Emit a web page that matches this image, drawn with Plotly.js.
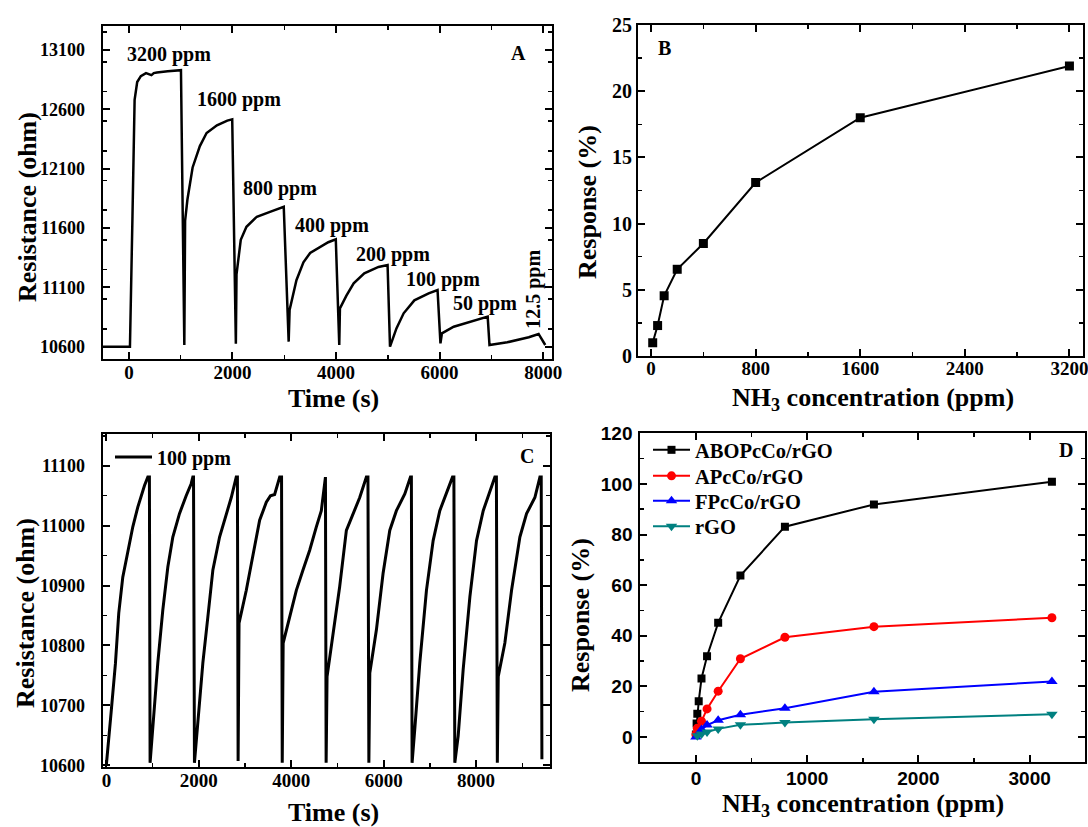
<!DOCTYPE html>
<html>
<head>
<meta charset="utf-8">
<script src="https://cdn.plot.ly/plotly-3.0.1.min.js"></script>
<style>html,body{margin:0;padding:0;background:#fff;}#chart{width:1088px;height:827px;}</style>
</head>
<body>
<div id="chart"></div>
<script>
// ---------- Panel A: resistance vs time, stepped NH3 concentrations ----------
const timeA = [-500, 20, 69, 110, 160, 230, 330, 400, 435, 480, 540, 750, 950, 1005,
  1070, 1085, 1130, 1230, 1370, 1500, 1700, 1900, 1995,
  2065, 2078, 2160, 2270, 2470, 2750, 2990,
  3085, 3103, 3235, 3370, 3500, 3700, 3850, 3995,
  4062, 4075, 4200, 4340, 4545, 4820, 4995,
  5042, 5166, 5305, 5512, 5788, 5960,
  6016, 6044, 6272, 6616, 6928,
  6963, 7307, 7722, 7860, 7911, 8040];
const resA = [10600, 10600, 11700, 12680, 12830, 12880, 12905, 12895, 12888, 12905, 12910, 12920, 12925, 12930,
  10614, 11660, 11840, 12110, 12290, 12400, 12465, 12505, 12515,
  10625, 11210, 11500, 11610, 11695, 11740, 11779,
  10642, 10909, 11160, 11310, 11390, 11440, 11480, 11505,
  10614, 10923, 11030, 11134, 11218, 11272, 11288,
  10600, 10754, 10881, 10990, 11049, 11077,
  10628, 10712, 10768, 10811, 10853,
  10614, 10637, 10679, 10698, 10707, 10614];
const labelsA = ["3200 ppm", "1600 ppm", "800 ppm", "400 ppm", "200 ppm", "100 ppm", "50 ppm", "12.5 ppm"];

// ---------- Panel B: response vs concentration ----------
const concB = [12.5, 50, 100, 200, 400, 800, 1600, 3200];
const respB = [1.0, 2.3, 4.55, 6.55, 8.5, 13.1, 18.0, 21.9];

// ---------- Panel C: repeated 100 ppm cycles ----------
const timeC = [0, 50, 100, 195, 267, 354, 462, 571, 679, 751, 824, 896, 930,
  945, 1003, 1112, 1220, 1329, 1437, 1581, 1726, 1834, 1870, 1885,
  1905, 1979, 2087, 2196, 2304, 2449, 2593, 2702, 2810, 2835,
  2850, 2870, 3027, 3172, 3316, 3460, 3550, 3640, 3750, 3790,
  3805, 3825, 3966, 4110, 4254, 4399, 4543, 4651, 4740,
  4755, 4775, 4904, 5048, 5193, 5337, 5482, 5626, 5660,
  5680, 5700, 5843, 5987, 6132, 6276, 6457, 6580, 6600,
  6615, 6673, 6782, 6926, 7071, 7215, 7360, 7490, 7520,
  7540, 7613, 7721, 7866, 8010, 8155, 8299, 8407, 8440,
  8460, 8480, 8623, 8768, 8948, 9093, 9273, 9382, 9410,
  9425];
const resC = [10602, 10640, 10687, 10770, 10854, 10914, 10959, 10998, 11031, 11050, 11067, 11081, 11081,
  10604, 10660, 10771, 10859, 10931, 10981, 11020, 11050, 11070, 11081, 11081,
  10604, 10671, 10771, 10848, 10926, 10981, 11020, 11047, 11081, 11081,
  10607, 10837, 10892, 10948, 11009, 11039, 11050, 11052, 11081, 11081,
  10604, 10804, 10848, 10892, 10926, 10959, 10998, 11025, 11081,
  10604, 10748, 10815, 10898, 10992, 11020, 11047, 11081, 11081,
  10604, 10754, 10826, 10920, 10992, 11025, 11053, 11081, 11081,
  10604, 10660, 10771, 10892, 10975, 11025, 11053, 11081, 11081,
  10604, 10649, 10760, 10881, 10975, 11025, 11056, 11081, 11081,
  10604, 10748, 10804, 10892, 10981, 11020, 11047, 11081, 11081,
  10610];

// ---------- Panel D: response of four sensing materials ----------
const namesD = ["ABOPcCo/rGO", "APcCo/rGO", "FPcCo/rGO", "rGO"];
const concD1 = [0, 6.25, 12.5, 25, 50, 100, 200, 400, 800, 1600, 3200];
const respD1 = [1, 5.3, 9.2, 14.1, 23.1, 31.9, 45.1, 63.8, 83.1, 91.9, 100.9];
const concD2 = [0, 12.5, 50, 100, 200, 400, 800, 1600, 3200];
const respD2 = [1, 3.5, 6.2, 11.1, 18.1, 30.9, 39.4, 43.6, 47.1];
const concD3 = [0, 50, 100, 200, 400, 800, 1600, 3200];
const respD3 = [0, 3.0, 4.7, 6.6, 8.8, 11.4, 17.9, 21.9];
const concD4 = [12.5, 50, 100, 200, 400, 800, 1600, 3200];
const respD4 = [0.5, 1.2, 2.0, 3.2, 4.8, 5.7, 7.0, 9.0];

// ---------- styling ----------
const SERIF = '"Liberation Serif", "Times New Roman", serif';
const SANS = '"Liberation Sans", Arial, sans-serif';
const W = 1088, H = 827;
const px = v => v / W;
const py = v => 1 - v / H;

const colorsD = ['#000000', '#ff0000', '#0000ff', '#008080'];
const symbolsD = ['square', 'circle', 'triangle-up', 'triangle-down'];
const sizesD = [8, 9, 10, 10];
const xD = [concD1, concD2, concD3, concD4];
const yD = [respD1, respD2, respD3, respD4];
const legendIdsD = ['legend3', 'legend4', 'legend5', 'legend6'];

const traces = [
  {x: timeA, y: resA, type: 'scatter', mode: 'lines', line: {color: '#000', width: 2.5},
   xaxis: 'x', yaxis: 'y', showlegend: false},
  {x: concB, y: respB, type: 'scatter', mode: 'lines+markers', line: {color: '#000', width: 2},
   marker: {symbol: 'square', size: 9, color: '#000'}, xaxis: 'x2', yaxis: 'y2', showlegend: false},
  {x: timeC, y: resC, type: 'scatter', mode: 'lines', name: '100 ppm', line: {color: '#000', width: 3},
   xaxis: 'x3', yaxis: 'y3', legend: 'legend2', showlegend: true}
];
for (let i = 0; i < 4; i++) {
  traces.push({x: xD[i], y: yD[i], type: 'scatter', mode: 'lines+markers', name: namesD[i],
    line: {color: colorsD[i], width: 2},
    marker: {symbol: symbolsD[i], size: sizesD[i], color: colorsD[i]},
    xaxis: 'x4', yaxis: 'y4', legend: legendIdsD[i], showlegend: true});
}

const minorT = dt => ({ticks: 'inside', dtick: dt, ticklen: 4, tickwidth: 1.5, tickcolor: '#000'});
function ax(opts) {
  return Object.assign({
    showline: true, linecolor: '#000', linewidth: 2, mirror: 'ticks',
    ticks: 'inside', ticklen: 7, tickwidth: 2, tickcolor: '#000',
    showgrid: false, zeroline: false, fixedrange: true,
    tickformat: 'd', ticklabeloverflow: 'allow',
    tickfont: {family: SERIF, size: 19, color: '#000', weight: 700}
  }, opts);
}

const titleFont = {family: SERIF, size: 26, color: '#000', weight: 700};
const labFont = {family: SERIF, size: 20, color: '#000', weight: 700};
function note(text, x, y, xref, yref, font, angle) {
  const a = {text: text, x: x, y: y, xref: xref, yref: yref, showarrow: false,
    xanchor: 'center', yanchor: 'middle', font: font};
  if (angle) a.textangle = angle;
  return a;
}

const annotations = [
  // axis titles
  note('Time (s)', px(333), py(398), 'paper', 'paper', titleFont),
  note('Resistance (ohm)', px(27), py(207), 'paper', 'paper', titleFont, -90),
  note('NH<sub>3</sub> concentration (ppm)', px(873), py(399), 'paper', 'paper', titleFont),
  note('Response (%)', px(587), py(202), 'paper', 'paper', titleFont, -90),
  note('Time (s)', px(333), py(812), 'paper', 'paper', titleFont),
  note('Resistance (ohm)', px(25), py(613), 'paper', 'paper', titleFont, -90),
  note('NH<sub>3</sub> concentration (ppm)', px(863), py(805), 'paper', 'paper', titleFont),
  note('Response (%)', px(580), py(615), 'paper', 'paper', titleFont, -90),
  // panel letters
  note('A', 7518, 13074, 'x', 'y', labFont),
  note('B', 101, 23.3, 'x2', 'y2', labFont),
  note('C', 9094, 11117, 'x3', 'y3', labFont),
  note('D', 3328, 113.4, 'x4', 'y4', labFont),
  // concentration labels in A
  note(labelsA[0], 782, 13066, 'x', 'y', labFont),
  note(labelsA[1], 2122, 12682, 'x', 'y', labFont),
  note(labelsA[2], 2924, 11933, 'x', 'y', labFont),
  note(labelsA[3], 3921, 11625, 'x', 'y', labFont),
  note(labelsA[4], 5091, 11377, 'x', 'y', labFont),
  note(labelsA[5], 6058, 11166, 'x', 'y', labFont),
  note(labelsA[6], 6880, 10960, 'x', 'y', labFont),
  note(labelsA[7], 7818, 11086, 'x', 'y', labFont, -90)
];

const legFontD = {family: SERIF, size: 20.5, color: '#000', weight: 700};
function legD(yc) {
  return {x: px(648), y: py(yc), xanchor: 'left', yanchor: 'middle', bgcolor: 'rgba(0,0,0,0)',
    borderwidth: 0, itemwidth: 37, font: legFontD};
}

const layout = {
  width: W, height: H,
  margin: {l: 0, r: 0, t: 0, b: 0},
  paper_bgcolor: '#fff', plot_bgcolor: '#fff',
  showlegend: true,
  xaxis: ax({domain: [px(102.5), px(552)], anchor: 'y', range: [-510, 8170], tick0: 0, dtick: 2000,
    ticklabelstandoff: -5, minor: minorT(1000)}),
  yaxis: ax({domain: [py(359), py(26)], anchor: 'x', range: [10496, 13302], tick0: 10600, dtick: 500,
    ticklabelstandoff: 12, tickfont: {family: SERIF, size: 18, color: '#000', weight: 700},
    minor: minorT(250)}),
  xaxis2: ax({domain: [px(638), px(1082.5)], anchor: 'y2', range: [-100, 3300], tick0: 0, dtick: 800,
    ticklabelstandoff: -6, minor: minorT(400)}),
  yaxis2: ax({domain: [py(356), py(25)], anchor: 'x2', range: [0, 25], tick0: 0, dtick: 5,
    tickfont: {family: SERIF, size: 20, color: '#000', weight: 700}, minor: minorT(2.5)}),
  xaxis3: ax({domain: [px(102.5), px(550)], anchor: 'y3', range: [-85, 9600], tick0: 0, dtick: 2000,
    ticklabelstandoff: -5, minor: minorT(1000)}),
  yaxis3: ax({domain: [py(767), py(434)], anchor: 'x3', range: [10597, 11153], tick0: 10600, dtick: 100,
    ticklabelstandoff: 12, tickfont: {family: SERIF, size: 18, color: '#000', weight: 700},
    minor: minorT(50)}),
  xaxis4: ax({domain: [px(640.3), px(1085.3)], anchor: 'y4', range: [-500, 3500], tick0: 0, dtick: 1000,
    ticklabelstandoff: -2, tickfont: {family: SANS, size: 19, color: '#000', weight: 700}, minor: minorT(500)}),
  yaxis4: ax({domain: [py(762.3), py(433.3)], anchor: 'x4', range: [-10, 120], tick0: 0, dtick: 20,
    ticklabelstandoff: 2, tickfont: {family: SANS, size: 19, color: '#000', weight: 700}, minor: minorT(10)}),
  legend2: {x: px(110), y: py(457), xanchor: 'left', yanchor: 'middle', bgcolor: 'rgba(0,0,0,0)',
    borderwidth: 0, itemwidth: 37, font: {family: SERIF, size: 20, color: '#000', weight: 700}},
  legend3: legD(450),
  legend4: legD(476),
  legend5: legD(501),
  legend6: legD(526.5),
  annotations: annotations
};

Plotly.newPlot('chart', traces, layout, {displayModeBar: false, staticPlot: true});
</script>
</body>
</html>
